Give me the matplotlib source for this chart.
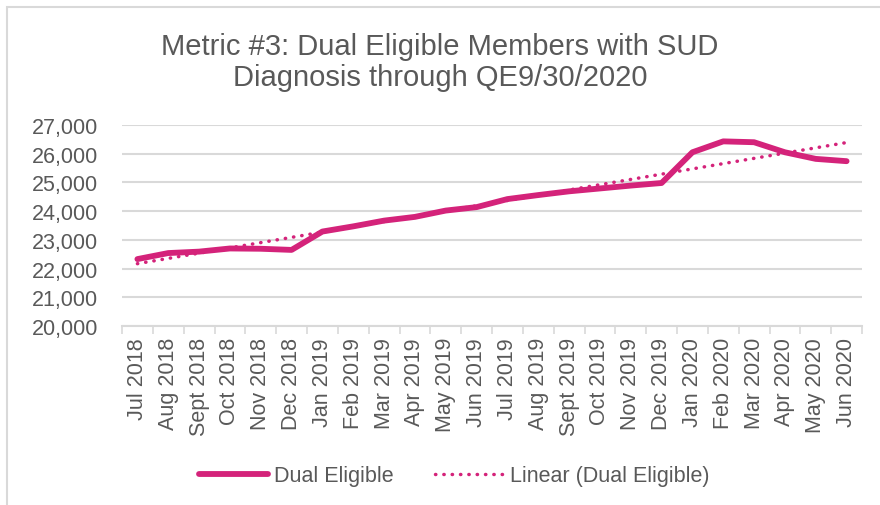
import numpy as np
import matplotlib
matplotlib.use("Agg")
from matplotlib import pyplot as plt
from matplotlib.patches import Rectangle

plt.rcParams['font.family'] = ['Liberation Sans', 'DejaVu Sans']

# data
months = ["Jul 2018", "Aug 2018", "Sept 2018", "Oct 2018", "Nov 2018", "Dec 2018",
          "Jan 2019", "Feb 2019", "Mar 2019", "Apr 2019", "May 2019", "Jun 2019",
          "Jul 2019", "Aug 2019", "Sept 2019", "Oct 2019", "Nov 2019", "Dec 2019",
          "Jan 2020", "Feb 2020", "Mar 2020", "Apr 2020", "May 2020", "Jun 2020"]
dual_eligible = [22330, 22540, 22590, 22700, 22690, 22650,
                 23290, 23470, 23670, 23800, 24020, 24140,
                 24420, 24560, 24690, 24790, 24890, 24980,
                 26050, 26430, 26400, 26050, 25820, 25740]
y_ticks = [20000, 21000, 22000, 23000, 24000, 25000, 26000, 27000]

pink = '#D4237A'
grey_text = '#595959'
grid_col = '#D9D9D9'

fig = plt.figure(figsize=(8.8, 5.06), dpi=100)
ax = fig.add_axes([122/880, 1-327/506, (862-122)/880, (327-126)/506])

x = np.arange(len(months))
# linear trendline, as Excel's "Linear (Dual Eligible)"
slope, intercept = np.polyfit(x, dual_eligible, 1)
trend = slope * x + intercept

ax.plot(x, trend, color=pink, linestyle=(0, (0.1, 2.3)), linewidth=2.5,
        dash_capstyle='round', label='Linear (Dual Eligible)', zorder=3)
ax.plot(x, dual_eligible, color=pink, linewidth=4.2, solid_capstyle='round',
        solid_joinstyle='round', label='Dual Eligible', zorder=4)

ax.set_xlim(-0.5, len(months) - 0.5)
ax.set_ylim(20000, 27000)
ax.set_yticks(y_ticks)
ax.set_yticklabels([f"{v:,}" for v in y_ticks])
ax.yaxis.grid(True, color=grid_col, linewidth=1.5)
ax.set_axisbelow(True)

ax.set_xticks(x)
ax.set_xticklabels(months, rotation=90)
ax.set_xticks(np.arange(len(months) + 1) - 0.5, minor=True)
ax.tick_params(axis='x', which='major', length=0, pad=8, labelsize=15.5, colors=grey_text)
ax.tick_params(axis='x', which='minor', length=6, width=1.2, color=grid_col)
ax.tick_params(axis='y', length=0, pad=17, labelsize=15.5, colors=grey_text)

for s in ['top', 'right', 'left']:
    ax.spines[s].set_visible(False)
ax.spines['bottom'].set_color(grid_col)
ax.spines['bottom'].set_linewidth(1.5)

fig.suptitle("Metric #3: Dual Eligible Members with SUD\nDiagnosis through QE9/30/2020",
             x=0.5, y=0.935, fontsize=21, color=grey_text, linespacing=1.15)

handles, labels = ax.get_legend_handles_labels()
leg = fig.legend(handles[::-1], labels[::-1], loc='center',
                 bbox_to_anchor=(0.5 + 14/880, 1-477/506),
                 ncol=2, frameon=False, fontsize=15.5, handlelength=3.2,
                 handletextpad=0.3, columnspacing=1.9)
for t in leg.get_texts():
    t.set_color(grey_text)

# chart frame
fig.patches.append(Rectangle((7/880, -0.1), 1.2, 1 - 8/506 + 0.1, transform=fig.transFigure,
                             fill=False, edgecolor='#D9D9D9', linewidth=1.5))

fig.savefig("out.png", dpi=100)
